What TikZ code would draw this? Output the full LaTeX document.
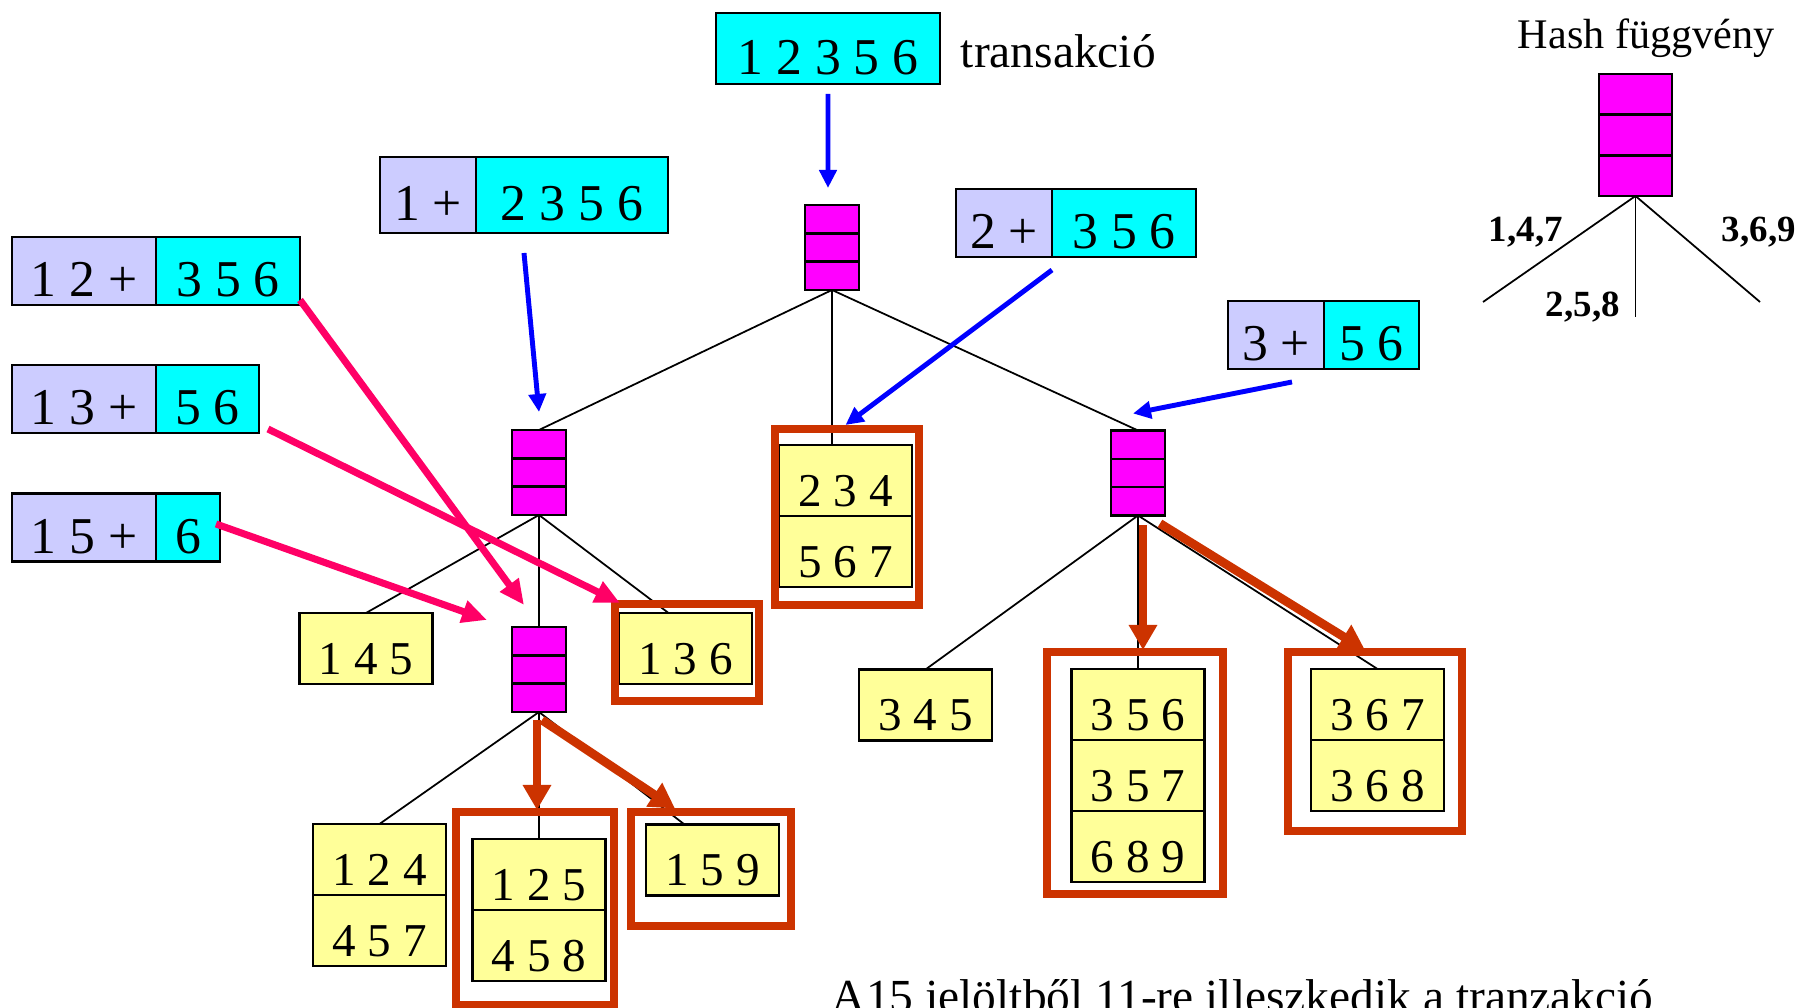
\documentclass[tikz,border=0pt]{standalone}
\usepackage{fontspec}
\setmainfont{Liberation Serif}
\usetikzlibrary{arrows.meta,positioning,calc}

\definecolor{lila}{HTML}{CCCCFF}
\definecolor{cian}{HTML}{00FFFF}
\definecolor{bibor}{HTML}{FF00FF}
\definecolor{sarga}{HTML}{FFFF99}
\definecolor{tegla}{HTML}{CC3300}
\definecolor{rozsa}{HTML}{FF0066}
\definecolor{kek}{HTML}{0000FF}

\newcommand{\nagy}{\fontsize{14.7pt}{17pt}\selectfont}
\newcommand{\kozep}{\fontsize{13.4pt}{16pt}\selectfont}
\newcommand{\szoveg}{\fontsize{13.5pt}{16pt}\selectfont}

\begin{document}
\begin{tikzpicture}[line width=0.5pt,
  doboz/.style={draw,line width=0.7pt,inner sep=0pt,outer sep=0pt,minimum height=0.71cm,text height=0.52cm,text depth=0pt},
  elo/.style={doboz,fill=lila,font=\nagy,minimum height=0.68cm},
  maradek/.style={doboz,fill=cian,font=\nagy,minimum height=0.68cm},
  jelolt/.style={doboz,fill=sarga,font=\kozep,minimum width=1.33cm},
  hash/.style={draw,line width=0.7pt,fill=bibor,inner sep=0pt,outer sep=0pt,minimum width=0.54cm,minimum height=0.85cm,
    path picture={\foreach \t in {1,2}
      \draw[line width=0.7pt] ($(path picture bounding box.north west)!\t/3!(path picture bounding box.south west)$)
        -- ($(path picture bounding box.north east)!\t/3!(path picture bounding box.south east)$);}},
  felirat/.style={anchor=base west,inner sep=0pt},
  agcimke/.style={felirat,font=\bfseries\fontsize{10.5pt}{12pt}\selectfont},
  talalat/.style={draw=tegla,line width=2.3pt},
  kekny/.style={-{Triangle[length=1.8mm,width=1.7mm]},kek,line width=1.4pt},
  rozsany/.style={-{Triangle[length=2.5mm,width=2.2mm]},rozsa,line width=2pt},
  pirosny/.style={-{Triangle[length=2.5mm,width=2.7mm]},tegla,line width=2.5pt}]
  \useasboundingbox (0,0) rectangle (17.98,10.08);
  % ===================== tranzakcio =====================
  \node[doboz,fill=cian,font=\nagy,minimum width=2.24cm] (tr) at (8.28,9.595) {1 2 3 5 6};
  \node[felirat,font=\szoveg] (trsz) at (9.60,9.40) {transakció};
  % ===================== reszhalmazok =====================
  \node[elo,minimum width=0.96cm,minimum height=0.76cm] (p1) at (4.28,8.13) {1 +};
  \node[maradek,minimum width=1.92cm,minimum height=0.76cm,right=0pt of p1] (r1) {2 3 5 6};
  \node[elo,minimum width=0.96cm] (p2) at (10.04,7.85) {2 +};
  \node[maradek,minimum width=1.44cm,right=0pt of p2] (r2) {3 5 6};
  \node[elo,minimum width=0.96cm] (p3) at (12.76,6.73) {3 +};
  \node[maradek,minimum width=0.95cm,right=0pt of p3] (r3) {5 6};
  \node[elo,minimum width=1.44cm] (p12) at (0.84,7.37) {1 2 +};
  \node[maradek,minimum width=1.44cm,right=0pt of p12] (r12) {3 5 6};
  \node[elo,minimum width=1.44cm] (p13) at (0.84,6.09) {1 3 +};
  \node[maradek,minimum width=1.03cm,right=0pt of p13] (r13) {5 6};
  \node[elo,minimum width=1.44cm] (p15) at (0.84,4.805) {1 5 +};
  \node[maradek,minimum width=0.64cm,right=0pt of p15] (r15) {6};
  % ===================== hash fa =====================
  \node[hash] (gy) at (8.32,7.605) {};
  \node[hash] (hb) at (5.39,5.355) {};
  \node[hash] (hbb) at (5.39,3.385) {};
  \node[hash] (hj) at (11.38,5.35) {};
  % levelek
  \node[jelolt] (l145) at (3.66,3.595) {1 4 5};
  \node[jelolt] (l136) at (6.855,3.595) {1 3 6};
  \node[jelolt] (l124) at (3.795,1.485) {1 2 4};
  \node[jelolt,below=0pt of l124] (l457) {4 5 7};
  \node[jelolt] (l125) at (5.39,1.335) {1 2 5};
  \node[jelolt,below=0pt of l125] (l458) {4 5 8};
  \node[jelolt] (l159) at (7.125,1.48) {1 5 9};
  \node[jelolt] (l234) at (8.455,5.275) {2 3 4};
  \node[jelolt,below=0pt of l234] (l567) {5 6 7};
  \node[jelolt] (l345) at (9.255,3.03) {3 4 5};
  \node[jelolt] (l356) at (11.38,3.035) {3 5 6};
  \node[jelolt,below=0pt of l356] (l357) {3 5 7};
  \node[jelolt,below=0pt of l357] (l689) {6 8 9};
  \node[jelolt] (l367) at (13.775,3.035) {3 6 7};
  \node[jelolt,below=0pt of l367] (l368) {3 6 8};
  % agak
  \draw (gy.south) -- (hb.north);
  \draw (gy.south) -- (gy.south |- l234.north);
  \draw (gy.south) -- (hj.north);
  \draw (hb.south) -- (l145.north);
  \draw (hb.south) -- (hbb.north);
  \draw (hb.south) -- ([xshift=-0.17cm]l136.north);
  \draw (hbb.south) -- (l124.north);
  \draw (hbb.south) -- (l125.north);
  \draw (hbb.south) -- ([xshift=-0.28cm]l159.north);
  \draw (hj.south) -- (l345.north);
  \draw (hj.south) -- (l356.north);
  \draw (hj.south) -- (l367.north);
  % illeszkedo jeloltek keretei
  \draw[talalat] (6.15,3.07) rectangle (7.59,4.04);
  \draw[talalat] (7.75,4.03) rectangle (9.19,5.79);
  \draw[talalat] (4.56,0.03) rectangle (6.14,1.96);
  \draw[talalat] (6.31,0.82) rectangle (7.91,1.96);
  \draw[talalat] (10.47,1.14) rectangle (12.23,3.56);
  \draw[talalat] (12.88,1.77) rectangle (14.62,3.56);
  % ===================== nyilak =====================
  \draw[kekny] ([yshift=-0.1cm]tr.south) -- ([xshift=-0.04cm,yshift=0.17cm]gy.north);
  \draw[kekny] ([shift={(0.48,-0.2)}]p1.south east) -- ([yshift=0.18cm]hb.north);
  \draw[kekny] ([yshift=-0.13cm]p2.south east) -- ([yshift=0.2cm]l234.north);
  \draw[kekny] ([shift={(-0.32,-0.13)}]p3.south east) -- ([shift={(-0.05,0.17)}]hj.north);
  \draw[rozsany] ([yshift=0.05cm]r12.south east) -- ([shift={(-0.15,0.22)}]hbb.north);
  \draw[rozsany] ([shift={(0.09,0.04)}]r13.south east) -- ([shift={(0.01,0.10)}]l136.north west);
  \draw[rozsany] ([shift={(-0.04,0.035)}]r15.east) -- ([shift={(-0.25,0.07)}]hbb.north west);
  \draw[pirosny] ([shift={(-0.02,-0.08)}]hbb.south) -- ([shift={(-0.02,0.29)}]l125.north);
  \draw[pirosny] ([shift={(0.03,-0.08)}]hbb.south) -- ([shift={(-0.375,0.16)}]l159.north);
  \draw[pirosny] ([shift={(0.05,-0.10)}]hj.south) -- ([shift={(0.05,0.19)}]l356.north);
  \draw[pirosny] ([shift={(0.22,-0.08)}]hj.south) -- ([shift={(-0.125,0.19)}]l367.north);
  % ===================== hash fuggveny =====================
  \node[felirat,font=\fontsize{12pt}{14pt}\selectfont] (hfsz) at (15.17,9.59) {Hash függvény};
  \node[hash,minimum width=0.73cm,minimum height=1.22cm] (hf) at (16.355,8.73) {};
  \coordinate (c147) at (14.83,7.06);
  \coordinate (c258) at (16.355,6.91);
  \coordinate (c369) at (17.60,7.06);
  \draw (hf.south) -- (c147);
  \draw (hf.south) -- (c258);
  \draw (hf.south) -- (c369);
  \node[agcimke] (t147) at (14.88,7.66) {1,4,7};
  \node[agcimke] (t369) at (17.21,7.66) {3,6,9};
  \node[agcimke] (t258) at (15.45,6.91) {2,5,8};
  % ===================== osszegzes =====================
  \node[felirat,font=\szoveg] (ossz) at (8.31,-0.05) {A15 jelöltből 11-re illeszkedik a tranzakció};
\end{tikzpicture}
\end{document}
